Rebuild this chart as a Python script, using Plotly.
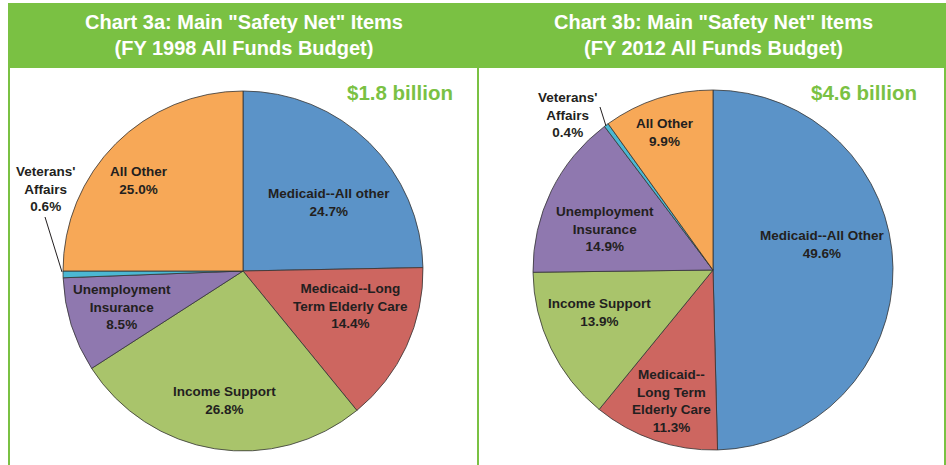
import plotly.graph_objects as go

# slice order: clockwise from 12 o'clock
labels_1998 = ["Medicaid--All other", "Medicaid--Long Term Elderly Care", "Income Support",
               "Unemployment Insurance", "Veterans' Affairs", "All Other"]
values_1998 = [24.7, 14.4, 26.8, 8.5, 0.6, 25.0]
text_1998 = ["Medicaid--All other", "Medicaid--Long<br>Term Elderly Care", "Income Support",
             "Unemployment<br>Insurance", "Veterans'<br>Affairs", "All Other"]

labels_2012 = ["Medicaid--All Other", "Medicaid--Long Term Elderly Care", "Income Support",
               "Unemployment Insurance", "Veterans' Affairs", "All Other"]
values_2012 = [49.6, 11.3, 13.9, 14.9, 0.4, 9.9]
text_2012 = ["Medicaid--All Other", "Medicaid--<br>Long Term<br>Elderly Care", "Income Support",
             "Unemployment<br>Insurance", "Veterans'<br>Affairs", "All Other"]

titles = ['Chart 3a: Main "Safety Net" Items<br>(FY 1998 All Funds Budget)',
          'Chart 3b: Main "Safety Net" Items<br>(FY 2012 All Funds Budget)']
totals = ["$1.8 billion", "$4.6 billion"]

colors = ["#5B93C8", "#CD6660", "#A9C46B", "#8F78AF", "#4BB8D3", "#F7A857"]
GREEN = "#7AC143"
TXT = "#231F20"

W, H = 946, 465
def px(x): return x / W
def py(y): return 1 - y / H

# label centres in pixels (x, y)
pos_1998 = [(329, 203), (350, 306), (224, 400), (122, 307), (46, 189), (139, 181)]
pos_2012 = [(822, 244), (671, 401), (599, 312), (605, 229), (568, 115), (665, 132)]

fig = go.Figure()

def add_pie(labels, values, cx, cy, r):
    fig.add_trace(go.Pie(
        labels=labels, values=values, sort=False, direction="clockwise", rotation=0,
        marker=dict(colors=colors, line=dict(color="#333333", width=0.8)),
        textinfo="none", showlegend=False,
        domain=dict(x=[px(cx - r), px(cx + r)], y=[py(cy + r), py(cy - r)]),
    ))

add_pie(labels_1998, values_1998, 243, 271, 180)
add_pie(labels_2012, values_2012, 713, 270, 180)

shapes = [
    dict(type="rect", xref="paper", yref="paper", x0=px(8), x1=px(946), y0=py(68), y1=py(3),
         fillcolor=GREEN, line=dict(width=0), layer="below"),
]
for x in [9, 478, 945]:
    shapes.append(dict(type="line", xref="paper", yref="paper", x0=px(x), x1=px(x),
                       y0=py(68), y1=py(465), line=dict(color=GREEN, width=2)))
# leader lines for Veterans' Affairs
shapes.append(dict(type="line", xref="paper", yref="paper", x0=px(45), y0=py(217),
                   x1=px(62), y1=py(272), line=dict(color=TXT, width=1)))
shapes.append(dict(type="line", xref="paper", yref="paper", x0=px(600), y0=py(107),
                   x1=px(606), y1=py(126), line=dict(color=TXT, width=1)))

ann = []
for t, cx in zip(titles, [244, 713]):
    ann.append(dict(text="<b>" + t + "</b>", x=px(cx), y=py(35), xref="paper", yref="paper",
                    showarrow=False, xanchor="center", yanchor="middle",
                    font=dict(size=20, color="white", family="Liberation Sans, Arial")))
for t, cx, cy in zip(totals, [400, 864], [93, 92]):
    ann.append(dict(text="<b>" + t + "</b>", x=px(cx), y=py(cy), xref="paper", yref="paper",
                    showarrow=False, xanchor="center", yanchor="middle",
                    font=dict(size=20.5, color=GREEN, family="Liberation Sans, Arial")))
for texts, vals, pos in [(text_1998, values_1998, pos_1998), (text_2012, values_2012, pos_2012)]:
    for t, v, (x, y) in zip(texts, vals, pos):
        ann.append(dict(text="<b>%s<br>%.1f%%</b>" % (t, v), x=px(x), y=py(y),
                        xref="paper", yref="paper", showarrow=False,
                        xanchor="center", yanchor="middle",
                        font=dict(size=13.5, color=TXT, family="Liberation Sans, Arial")))

fig.update_layout(
    width=W, height=H, margin=dict(l=0, r=0, t=0, b=0),
    paper_bgcolor="white", plot_bgcolor="white",
    shapes=shapes, annotations=ann,
)

# drop the default page margin so the figure sits at (0, 0)
fig.write_html("out.html", config={"displayModeBar": False},
               post_script="document.body.style.margin='0';")
